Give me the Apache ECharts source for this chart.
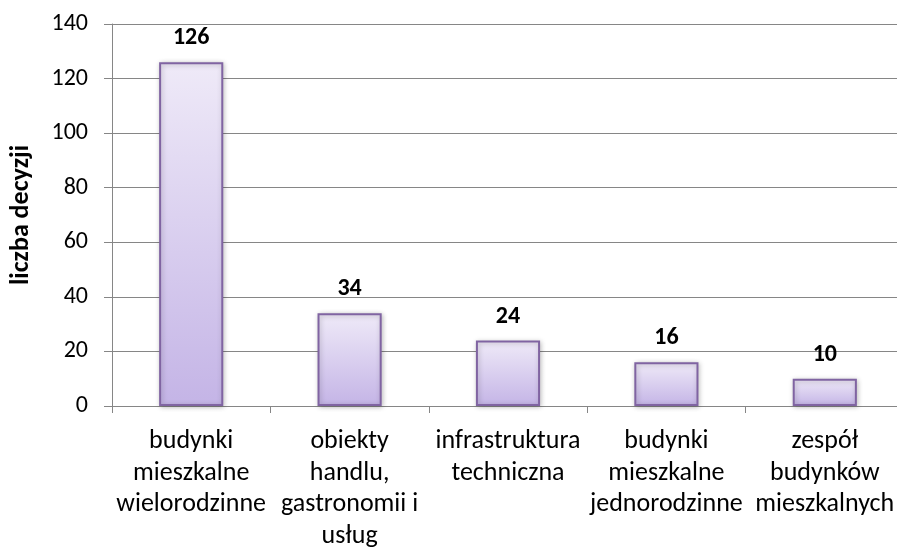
<!DOCTYPE html>
<html>
<head>
<meta charset="utf-8">
<script src="https://cdn.jsdelivr.net/npm/echarts@6/dist/echarts.min.js"></script>
<style>html,body{margin:0;padding:0;background:#fff}#c{width:897px;height:548px}</style>
</head>
<body>
<div id="c"></div>
<script>
const categories = [
  "budynki\nmieszkalne\nwielorodzinne",
  "obiekty\nhandlu,\ngastronomii i\nusług",
  "infrastruktura\ntechniczna",
  "budynki\nmieszkalne\njednorodzinne",
  "zespół\nbudynków\nmieszkalnych"
];
const values = [126, 34, 24, 16, 10];
const yTicks = { min: 0, max: 140, interval: 20 };
const yTitle = "liczba decyzji";

const FONT = "Carlito, Calibri, Lato, sans-serif";
const chart = echarts.init(document.getElementById('c'), null, { renderer: 'canvas' });
chart.setOption({
  animation: false,
  backgroundColor: '#ffffff',
  grid: { left: 112, top: 24, width: 792, height: 382, containLabel: false, outerBoundsMode: 'none' },
  xAxis: {
    type: 'category',
    data: categories,
    boundaryGap: true,
    axisLine: { show: true, lineStyle: { color: '#868686', width: 1 } },
    axisTick: { show: true, length: 7, alignWithLabel: false, lineStyle: { color: '#868686' } },
    axisLabel: { color: '#000', fontFamily: FONT, fontSize: 26, lineHeight: 31.5, margin: 20, interval: 0 },
    splitLine: { show: false }
  },
  yAxis: {
    type: 'value',
    min: yTicks.min, max: yTicks.max, interval: yTicks.interval,
    name: yTitle,
    nameLocation: 'middle',
    nameGap: 78,
    nameRotate: 90,
    nameTextStyle: { color: '#000', fontFamily: FONT, fontSize: 26, fontWeight: 'bold' },
    axisLine: { show: true, lineStyle: { color: '#868686', width: 1 } },
    axisTick: { show: true, length: 8, inside: false, lineStyle: { color: '#868686' } },
    axisLabel: { color: '#000', fontFamily: FONT, fontSize: 24, margin: 24 },
    splitLine: { show: true, lineStyle: { color: '#868686', width: 1 } }
  },
  series: [{
    type: 'bar',
    data: values,
    barWidth: '40.5%',
    itemStyle: {
      color: new echarts.graphic.LinearGradient(0, 0, 0, 1, [
        { offset: 0, color: '#efeaf8' },
        { offset: 1, color: '#c4b4e6' }
      ]),
      borderColor: '#8064a2',
      borderWidth: 2,
      shadowColor: 'rgba(0,0,0,0.25)',
      shadowBlur: 5,
      shadowOffsetX: 1,
      shadowOffsetY: 1
    },
    label: {
      show: true,
      position: 'top',
      distance: 12,
      color: '#000',
      fontFamily: FONT,
      fontSize: 24,
      fontWeight: 'bold'
    }
  }]
});
</script>
</body>
</html>
